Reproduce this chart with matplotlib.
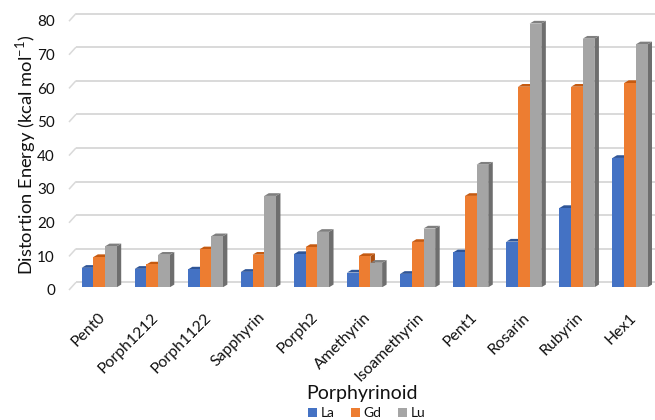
import matplotlib
matplotlib.use('Agg')
import matplotlib.pyplot as plt
from matplotlib.patches import Polygon
import numpy as np

categories = ['Pent0', 'Porph1212', 'Porph1122', 'Sapphyrin', 'Porph2', 'Amethyrin',
              'Isoamethyrin', 'Pent1', 'Rosarin', 'Rubyrin', 'Hex1']
la = [5.8, 5.5, 5.3, 4.6, 9.9, 4.4, 4.0, 10.4, 13.6, 23.6, 38.5]
gd = [9.0, 6.8, 11.3, 9.7, 12.0, 9.3, 13.5, 27.2, 59.7, 59.7, 60.8]
lu = [12.2, 9.7, 15.2, 27.2, 16.5, 7.3, 17.5, 36.5, 78.5, 74.0, 72.3]
series_names = ['La', 'Gd', 'Lu']
yticks = [0, 10, 20, 30, 40, 50, 60, 70, 80]

front_colors = ['#4472C4', '#ED7D31', '#A5A5A5']
cap_colors = ['#2F5597', '#C55A11', '#7F7F7F']
side_colors = ['#2B4E8C', '#AE4F10', '#6E6E6E']

plt.rcParams['font.family'] = ['Lato', 'DejaVu Sans']
plt.rcParams['mathtext.fontset'] = 'custom'
plt.rcParams['mathtext.rm'] = 'Lato'

W, H = 655, 420
fig = plt.figure(figsize=(W / 100, H / 100), dpi=100)
L, R = 69, 655
yb, yt = 287.3, 18.5
ax = fig.add_axes([L / W, (H - yb) / H, (R - L) / W, (yb - yt) / H])
x0, sp = 99.2, 53.08
a = -(x0 - L) / sp
b = (R - x0) / sp
ax.set_xlim(a, b)
ax.set_ylim(0, 80)
ax.axis('off')
pxx = 1.0 / sp
pxy = 80.0 / (yb - yt)

grid_c = '#D9D9D9'
for v in yticks:
    ax.plot([a, a + 7 * pxx], [v - 2.7 * pxy, v + 5 * pxy], color=grid_c, lw=1.1,
            clip_on=False, zorder=1, solid_capstyle='butt')
    ax.plot([a + 7 * pxx, b + 10 * pxx], [v + 5 * pxy] * 2, color=grid_c, lw=1.4,
            clip_on=False, zorder=1, solid_capstyle='butt')
    ax.text(a - 14 * pxx, v - 3.8 * pxy, str(v), ha='right', va='center',
            fontsize=11, color='#111111')

x = np.arange(len(categories))
bw = 11.67 * pxx
dx, dy = 4.5 * pxx, 2.7 * pxy
data = [la, gd, lu]
for k, vals in enumerate(data):
    xs = x + (k - 1) * bw
    ax.bar(xs, vals, width=bw, color=front_colors[k], label=series_names[k],
           zorder=3 + 2 * k, linewidth=0)
    for xi, h in zip(xs, vals):
        xr = xi + bw / 2
        xl = xi - bw / 2
        side = Polygon([(xr, 0), (xr + dx, dy), (xr + dx, h + dy), (xr, h)],
                       closed=True, facecolor=side_colors[k], edgecolor='none',
                       zorder=2 + 2 * k)
        cap = Polygon([(xl, h), (xl + dx, h + dy), (xr + dx, h + dy), (xr, h)],
                      closed=True, facecolor=cap_colors[k], edgecolor='none',
                      zorder=2 + 2 * k)
        ax.add_patch(side)
        ax.add_patch(cap)

for i, name in enumerate(categories):
    ax.text(i - 1 * pxx, -23 * pxy, name, rotation=45, rotation_mode='anchor',
            ha='right', va='top', fontsize=11.3, color='#111111')

fig.text(26 / W, 1 - 155 / H, r'Distortion Energy (kcal mol$^{\mathregular{-1}}$)',
         rotation=90, ha='center', va='center', fontsize=13.2, color='#111111')
fig.text(362 / W, 1 - 393 / H, 'Porphyrinoid', ha='center', va='center',
         fontsize=14, color='#111111')
fig.legend(loc='center', bbox_to_anchor=(367 / W, 1 - 413 / H), ncol=3, frameon=False,
           fontsize=10, handlelength=0.6, handleheight=0.6, handletextpad=0.3,
           columnspacing=1.2, borderpad=0, labelcolor='#111111')

fig.savefig('out.png', dpi=100)
